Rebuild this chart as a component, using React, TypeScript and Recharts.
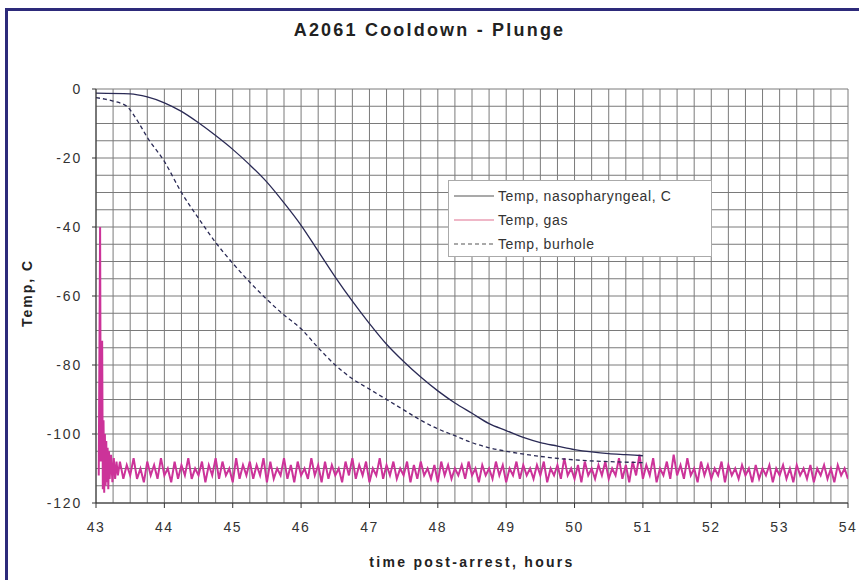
import { LineChart, Line, XAxis, YAxis, ReferenceLine } from 'recharts';

// hours post-arrest vs temperature (C)
const nasoTime = [43.0, 43.5, 43.75, 44.0, 44.25, 44.5, 44.75, 45.0, 45.25, 45.5, 45.75, 46.0, 46.25, 46.5, 46.75, 47.0, 47.25, 47.5, 47.75, 48.0, 48.25, 48.5, 48.75, 49.0, 49.25, 49.5, 49.75, 50.0, 50.25, 50.5, 50.75, 51.0];
const nasoTemp = [-1.2, -1.4, -2.3, -4, -6.5, -9.8, -13.5, -17.5, -22, -27, -33, -39.5, -47, -54.5, -61.5, -68, -74, -79, -83.5, -87.5, -91, -94, -97, -99, -101, -102.5, -103.5, -104.5, -105.2, -105.7, -106, -106.3];

const burTime = [43.0, 43.25, 43.45, 43.6, 43.75, 44.0, 44.25, 44.5, 44.75, 45.0, 45.25, 45.5, 45.75, 46.0, 46.25, 46.5, 46.75, 47.0, 47.25, 47.5, 47.75, 48.0, 48.25, 48.5, 48.75, 49.0, 49.5, 50.0, 50.5, 51.0];
const burTemp = [-2.5, -3.5, -5, -9, -14, -21, -30, -37.5, -44.5, -50.5, -56, -61, -65.5, -69.5, -75, -80, -84, -87, -90, -93, -96, -98.5, -100.5, -102.5, -104, -105, -106.5, -107.5, -108, -108.3];

// gas probe: initial spike, then a noisy band sampled every 0.05 h
const gasEarlyTime = [43.04, 43.06, 43.07, 43.09, 43.1, 43.11, 43.12, 43.13, 43.14, 43.15, 43.16, 43.17, 43.18, 43.19, 43.2, 43.22, 43.24, 43.26, 43.28, 43.3, 43.32];
const gasEarlyTemp = [-112, -40, -108, -73, -116, -96, -117, -100, -115, -102, -114, -104, -116, -105, -113, -106, -114, -107, -113, -108, -112];
const GAS_BAND_START = 43.35;
const GAS_BAND_STEP = 0.05;
const gasBand = [
  -108, -113, -109, -112, -107, -113, -110, -114, -108, -112, -109, -113, -107, -112, -110, -114, -108, -113, -109, -112,
  -107, -113, -110, -112, -108, -114, -109, -112, -107, -113, -108, -112, -110, -114, -107, -113, -109, -112, -108, -113,
  -109, -112, -107, -114, -108, -113, -110, -112, -107, -113, -109, -114, -108, -112, -110, -113, -107, -112, -109, -114,
  -108, -113, -109, -112, -110, -114, -108, -112, -107, -113, -109, -112, -108, -114, -110, -112, -107, -113, -109, -112,
  -108, -113, -110, -112, -108, -114, -109, -113, -108, -112, -110, -113, -109, -114, -108, -112, -109, -113, -110, -112,
  -109, -113, -108, -112, -110, -114, -109, -112, -110, -113, -108, -112, -109, -114, -110, -112, -108, -113, -109, -112,
  -110, -113, -109, -112, -108, -114, -110, -112, -109, -113, -107, -112, -110, -113, -109, -114, -108, -112, -110, -113,
  -109, -112, -108, -113, -110, -112, -107, -113, -109, -114, -108, -112, -106, -113, -109, -112, -107, -114, -110, -112,
  -108, -113, -106, -112, -109, -113, -107, -112, -110, -114, -108, -112, -109, -113, -110, -112, -108, -114, -109, -112,
  -110, -113, -109, -112, -110, -114, -109, -113, -110, -112, -109, -114, -110, -112, -109, -113, -110, -114, -109, -112,
  -110, -113, -109, -114, -110, -112, -109, -113, -110, -114, -109, -112, -110, -113,
];

const xTicks = [43, 44, 45, 46, 47, 48, 49, 50, 51, 52, 53, 54];
const yTicks = [0, -20, -40, -60, -80, -100, -120];

const NAVY = '#2a2a55';
const GAS = '#cc3399';
const GRID = '#7a7a7a';
const FONT = '"Liberation Sans", Arial, sans-serif';

const toPoints = (ts: number[], vs: number[]) => ts.map((t, i) => ({ t, v: vs[i] }));

const nasoData = toPoints(nasoTime, nasoTemp);
const burData = toPoints(burTime, burTemp);
const gasData = [
  ...toPoints(gasEarlyTime, gasEarlyTemp),
  ...gasBand.map((v, i) => ({ t: +(GAS_BAND_START + i * GAS_BAND_STEP).toFixed(2), v })),
];

// grid every quarter hour / every 5 degrees
const xGrid: number[] = [];
for (let x = 43; x <= 54.001; x += 0.25) xGrid.push(+x.toFixed(2));
const yGrid: number[] = [];
for (let y = 0; y >= -120; y -= 5) yGrid.push(y);

const legendItems = [
  { name: 'Temp, nasopharyngeal, C', color: '#555', dash: undefined },
  { name: 'Temp, gas', color: '#e07090', dash: undefined },
  { name: 'Temp, burhole', color: '#555', dash: '4 3' },
];

const LegendBox = () => (
  <div
    style={{
      position: 'absolute',
      left: 448,
      top: 180,
      background: '#fff',
      border: '1px solid #aaa',
      width: 264,
      height: 77,
      boxSizing: 'border-box',
      padding: '3px 0 0 5px',
      fontSize: 14,
      color: '#333',
      letterSpacing: 0.6,
    }}
  >
    {legendItems.map((it) => (
      <div key={it.name} style={{ display: 'flex', alignItems: 'center', height: 24 }}>
        <svg width={40} height={10} style={{ marginRight: 4 }}>
          <line x1={0} y1={5} x2={40} y2={5} stroke={it.color} strokeWidth={1.2} strokeDasharray={it.dash} />
        </svg>
        <span>{it.name}</span>
      </div>
    ))}
  </div>
);

export default function App() {
  return (
    <div
      style={{
        position: 'absolute',
        left: 0,
        top: 0,
        width: 859,
        height: 580,
        overflow: 'hidden',
        background: '#fff',
        fontFamily: FONT,
      }}
    >
      <div
        style={{
          position: 'absolute',
          left: 5,
          top: 8,
          width: 900,
          height: 620,
          border: '3px solid #2d2a7a',
        }}
      />
      <div
        style={{
          position: 'absolute',
          left: 0,
          top: 19,
          width: 859,
          textAlign: 'center',
          fontSize: 18,
          lineHeight: '22px',
          fontWeight: 'bold',
          letterSpacing: 2.2,
          color: '#222',
        }}
      >
        A2061 Cooldown - Plunge
      </div>
      <div
        style={{
          position: 'absolute',
          left: 27 - 50,
          top: 293 - 9,
          width: 100,
          textAlign: 'center',
          fontSize: 14,
          lineHeight: '18px',
          fontWeight: 'bold',
          letterSpacing: 2,
          color: '#222',
          transform: 'rotate(-90deg)',
        }}
      >
        Temp, C
      </div>
      <div
        style={{
          position: 'absolute',
          left: 96,
          top: 553,
          width: 752,
          textAlign: 'center',
          fontSize: 14,
          lineHeight: '18px',
          fontWeight: 'bold',
          letterSpacing: 2.3,
          color: '#222',
        }}
      >
        time post-arrest, hours
      </div>
      <div style={{ position: 'absolute', left: 0, top: 0 }}>
        <LineChart width={859} height={580} margin={{ top: 89, right: 11, bottom: 47, left: 46 }}>
          {yGrid.map((v) => (
            <ReferenceLine key={`h${v}`} y={v} stroke={GRID} strokeWidth={1} />
          ))}
          {xGrid.map((v) => (
            <ReferenceLine key={`v${v}`} x={v} stroke={GRID} strokeWidth={1} />
          ))}
          <XAxis
            type="number"
            dataKey="t"
            domain={[43, 54]}
            ticks={xTicks}
            allowDataOverflow
            height={30}
            tickSize={5}
            tickMargin={14}
            stroke="#333"
            tick={{ fill: '#333', fontSize: 14, letterSpacing: 1.5, fontFamily: FONT }}
          />
          <YAxis
            type="number"
            dataKey="v"
            domain={[-120, 0]}
            ticks={yTicks}
            allowDataOverflow
            width={50}
            tickSize={4}
            tickMargin={10}
            stroke="#333"
            tick={{ fill: '#333', fontSize: 14, letterSpacing: 1.8, fontFamily: FONT }}
          />
          <Line
            data={gasData}
            dataKey="v"
            name="Temp, gas"
            type="linear"
            stroke={GAS}
            strokeWidth={2}
            dot={false}
            isAnimationActive={false}
          />
          <Line
            data={nasoData}
            dataKey="v"
            name="Temp, nasopharyngeal, C"
            type="monotone"
            stroke={NAVY}
            strokeWidth={1.3}
            dot={false}
            isAnimationActive={false}
          />
          <Line
            data={burData}
            dataKey="v"
            name="Temp, burhole"
            type="monotone"
            stroke={NAVY}
            strokeWidth={1.3}
            strokeDasharray="4 3"
            dot={false}
            isAnimationActive={false}
          />
        </LineChart>
      </div>
      <LegendBox />
    </div>
  );
}
